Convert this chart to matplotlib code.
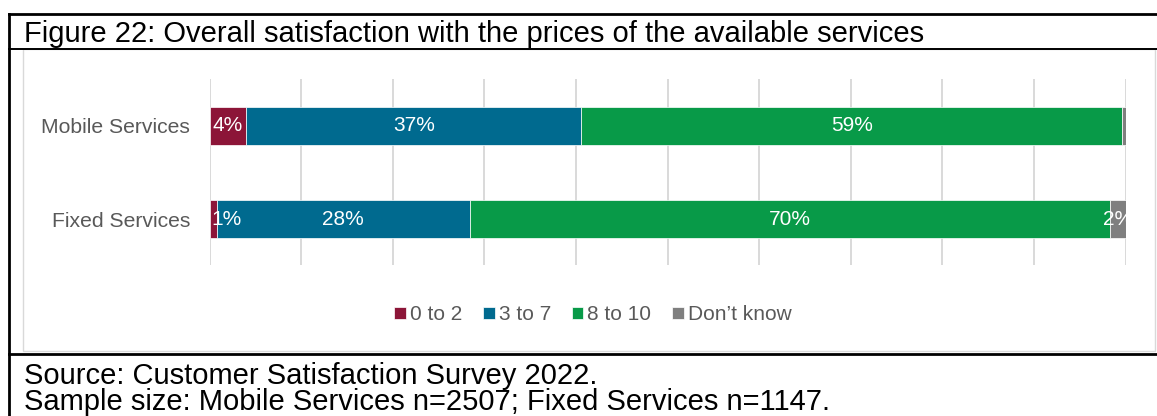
import matplotlib
matplotlib.use("Agg")
import matplotlib.pyplot as plt
from matplotlib.lines import Line2D
from matplotlib.patches import Rectangle

plt.rcParams['font.family'] = ['Liberation Sans', 'DejaVu Sans']

categories = ["Fixed Services", "Mobile Services"]
groups = ["0 to 2", "3 to 7", "8 to 10", "Don\u2019t know"]
values = {
    "0 to 2": [0.8, 4.0],
    "3 to 7": [27.6, 36.6],
    "8 to 10": [69.9, 59.0],
    "Don\u2019t know": [1.7, 0.4],
}
colors = ["#8c1538", "#006a8f", "#089a48", "#7f7f7f"]

title = "Figure 22: Overall satisfaction with the prices of the available services"
source = "Source: Customer Satisfaction Survey 2022."
sample = "Sample size: Mobile Services n=2507; Fixed Services n=1147."

W, H = 1157, 416


def fx(x):
    return x / W


def fy(y):
    return 1 - y / H


fig = plt.figure(figsize=(W / 100, H / 100), dpi=100)

# plot area
ax = fig.add_axes([fx(209.5), fy(265), fx(1125.5) - fx(209.5), fy(79) - fy(265)])
ax.set_xlim(0, 100)
ax.set_ylim(-0.49, 1.5)

left = [0, 0]
bars = []
for name, col in zip(groups, colors):
    vals = values[name]
    b = ax.barh(range(len(categories)), vals, left=left, height=0.405,
                color=col, edgecolor="white", linewidth=0.5, label=name, zorder=3)
    bars.append(b)
    for i, v in enumerate(vals):
        if round(v) >= 1:
            mid = max(left[i] + v / 2, 1.9)
            ax.text(mid, i, f"{round(v)}%", ha="center", va="center",
                    color="white", fontsize=15, zorder=4, clip_on=True)
    left = [l + v for l, v in zip(left, vals)]

ax.set_xticks(range(0, 101, 10))
ax.set_xticklabels([])
ax.tick_params(axis="both", length=0)
ax.set_yticks(range(len(categories)))
ax.set_yticklabels(categories, fontsize=15.2, color="#595959")
ax.tick_params(axis="y", pad=14)
ax.grid(axis="x", color="#d9d9d9", linewidth=1.4, zorder=0)
for s in ax.spines.values():
    s.set_visible(False)

fig.legend(handles=[b[0] for b in bars], labels=groups, loc="center",
           bbox_to_anchor=(fx(593), fy(315)), ncol=4, frameon=False,
           fontsize=15, labelcolor="#595959", handlelength=0.55,
           handleheight=0.55, handletextpad=0.2, columnspacing=1.0)

# frame around the figure
fig.add_artist(Rectangle((fx(22.5), fy(351)), fx(1155) - fx(22.5), fy(49) - fy(351),
                         fill=False, edgecolor="#d9d9d9", linewidth=1.0))
fig.add_artist(Line2D([fx(9), fx(1160)], [fy(14), fy(14)], color="black", linewidth=2.0))
fig.add_artist(Line2D([fx(9), fx(1160)], [fy(48.5), fy(48.5)], color="black", linewidth=1.4))
fig.add_artist(Line2D([fx(9), fx(1160)], [fy(354), fy(354)], color="black", linewidth=2.0))
fig.add_artist(Line2D([fx(9), fx(9)], [fy(14), fy(420)], color="black", linewidth=2.0))

fig.text(fx(24), fy(41.5), title, fontsize=21, va="baseline", ha="left", color="black")
fig.text(fx(24), fy(384), source, fontsize=21, va="baseline", ha="left", color="black")
fig.text(fx(24), fy(410), sample, fontsize=21, va="baseline", ha="left", color="black")

fig.savefig("out.png", dpi=100)
